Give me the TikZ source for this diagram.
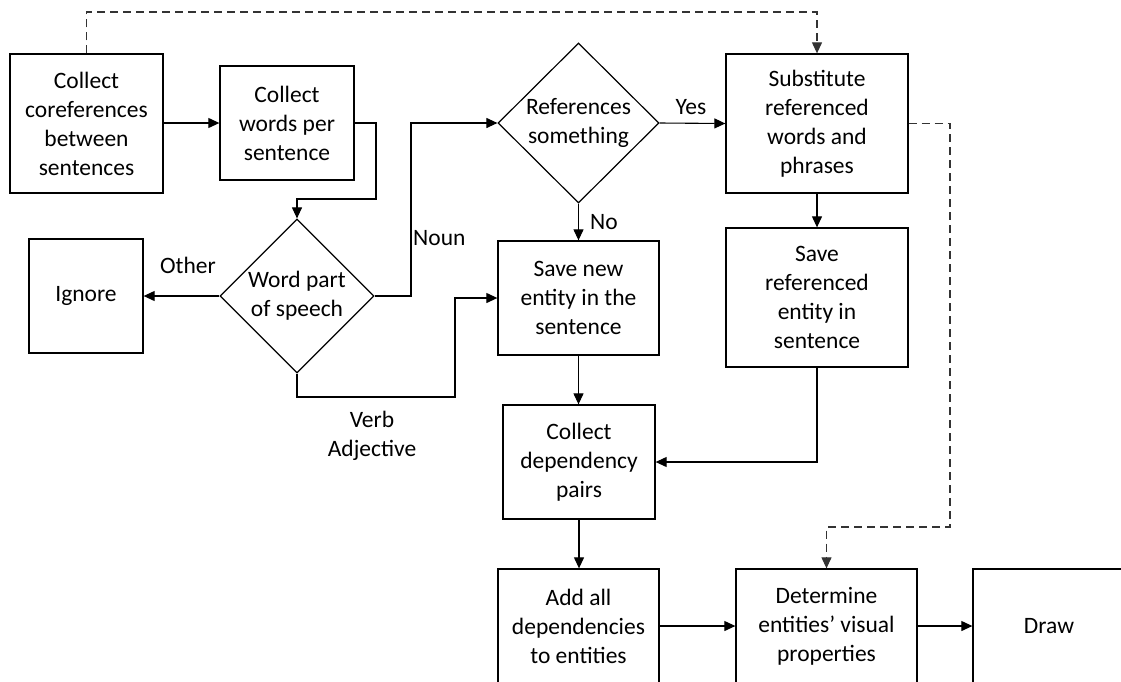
\documentclass[tikz,border=0pt]{standalone}
\usepackage{fontspec}
\setmainfont{Carlito}
\usetikzlibrary{arrows.meta,shapes.geometric}
\begin{document}
\begin{tikzpicture}[x=1pt,y=-1pt,
  font=\fontsize{23.5}{29}\selectfont,
  box/.style={draw=black,line width=1.3pt,rectangle,inner sep=0pt,align=center},
  dia/.style={draw=black,line width=1.2pt,diamond,aspect=1,inner sep=0pt},
  lbl/.style={inner sep=0pt,align=center},
  arr/.style={line width=1.1pt,-{Triangle[length=11pt,width=10pt]}},
  darr/.style={line width=1.1pt,black!80,dash pattern=on 8pt off 5pt,-{Triangle[length=11pt,width=10pt]}}]
\useasboundingbox (0,0) rectangle (1121,681);
\clip (0,0) rectangle (1121,681);

% boxes
\node[box,minimum width=153pt,minimum height=139pt] (b1) at (86.5,123.5) {Collect\\coreferences\\between\\sentences};
\node[box,minimum width=134pt,minimum height=114pt] (b2) at (287,123) {Collect\\words per\\sentence};
\node[box,minimum width=114pt,minimum height=114pt] (ign) at (86,296) {Ignore};
\node[dia,minimum width=154pt,minimum height=154pt] (pos) at (297,296) {};
\node[lbl] (post) at (297,296) {Word part\\of speech};
\node[dia,minimum width=161pt,minimum height=160pt] (ref) at (578.5,123) {};
\node[lbl] (reft) at (578.5,123) {References\\something};
\node[box,minimum width=182pt,minimum height=139pt] (sub) at (817,123.5) {Substitute\\referenced\\words and\\phrases};
\node[box,minimum width=161pt,minimum height=114pt] (saven) at (578.5,298) {Save new\\entity in the\\sentence};
\node[box,minimum width=182pt,minimum height=139pt] (saver) at (817,297.5) {Save\\referenced\\entity in\\sentence};
\node[box,minimum width=152pt,minimum height=114pt] (dep) at (579,462) {Collect\\dependency\\pairs};
\node[box,minimum width=161pt,minimum height=114pt] (add) at (578.5,626) {Add all\\dependencies\\to entities};
\node[box,minimum width=181pt,minimum height=114pt] (det) at (826.5,626) {Determine\\entities’ visual\\properties};
\node[box,minimum width=152pt,minimum height=114pt] (drw) at (1049,626) {Draw};

% helper coordinates
\coordinate (k1) at (376,199);
\coordinate (k2) at (411,123);
\coordinate (k3) at (455,397);
\coordinate (k4) at (86.5,12);
\coordinate (k5) at (950,527);

% connectors
\draw[arr] (b2.west -| b1.east) -- (b2.west);
\draw[arr] (b2.east) -| (k1) -| (pos.north);
\draw[arr] (pos.west) -- (ign.east);
\draw[arr] (pos.east) -| (k2) -- (ref.west);
\draw[arr] (pos.south) |- (k3) |- (saven.west);
\draw[arr] (ref.east) -- (sub.west);
\draw[arr] (ref.south) -- (saven.north);
\draw[arr] (sub.south) -- (saver.north);
\draw[arr] (saver.south) |- (dep.east);
\draw[arr] (saven.south) -- (saven.south |- dep.north);
\draw[arr] (dep.south) -- (dep.south |- add.north);
\draw[arr] (add.east) -- (det.west);
\draw[arr] (det.east) -- (drw.west);
\draw[darr] (b1.north) -- (k4) -| (sub.north);
\draw[darr] (sub.east) -| (k5) -| (det.north);

% labels
\node[lbl] (lother) at (188,265) {Other};
\node[lbl,anchor=west] (lnoun) at (413,238) {Noun};
\node[lbl] (lverb) at (372,436) {Verb\\Adjective};
\node[lbl] (lyes) at (691,107) {Yes};
\node[lbl] (lno) at (604,222) {No};
\end{tikzpicture}
\end{document}
